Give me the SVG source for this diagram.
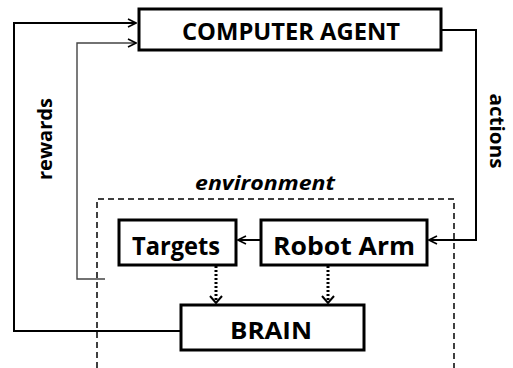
<svg xmlns="http://www.w3.org/2000/svg" width="513" height="368" viewBox="0 0 513 368">
<defs>
<marker id="ah" viewBox="0 0 10 10" refX="9" refY="5" markerWidth="10" markerHeight="10" markerUnits="userSpaceOnUse" orient="auto">
<path d="M1,1 L9,5 L1,9" fill="none" stroke="#000" stroke-width="1.6"/>
</marker>
</defs>
<style>
.box{fill:#fff;stroke:#000;stroke-width:3}
.lbl{font-family:"Open Sans","Liberation Sans",sans-serif;font-weight:700;fill:#000;text-anchor:middle}
.ln{fill:none;stroke:#000;stroke-width:2}
.thin{fill:none;stroke:#444;stroke-width:1.4}
.dot{fill:none;stroke:#000;stroke-width:3;stroke-dasharray:2 2}
</style>
<g id="environment">
<path d="M97,368 V199 H454 V368" fill="none" stroke="#000" stroke-width="1.5" stroke-dasharray="6 4"/>
<text x="265" y="190" class="lbl" font-size="20" font-style="italic" textLength="140" lengthAdjust="spacingAndGlyphs">environment</text>
</g>
<g id="connectors">
<path class="ln" d="M181,331 H14 V23 H136" marker-end="url(#ah)"/>
<path class="thin" d="M105,279 H77 V43 H136" marker-end="url(#ah)"/>
<path class="ln" d="M442,30 H476 V240 H429" marker-end="url(#ah)"/>
<path class="ln" d="M261,240 H238" marker-end="url(#ah)"/>
<path class="dot" d="M216,266 V300"/>
<path class="ln" d="M210,296 L216,303 L222,296"/>
<path class="dot" d="M328,266 V300"/>
<path class="ln" d="M322,296 L328,303 L334,296"/>
<text class="lbl" font-size="20" transform="translate(52,139) rotate(-90)" textLength="82" lengthAdjust="spacingAndGlyphs">rewards</text>
<text class="lbl" font-size="20" transform="translate(490,131) rotate(90)" textLength="75" lengthAdjust="spacingAndGlyphs">actions</text>
</g>
<g id="computer-agent">
<rect class="box" x="139" y="9" width="302" height="41"/>
<text x="291" y="40" class="lbl" font-size="23" textLength="218" lengthAdjust="spacingAndGlyphs">COMPUTER AGENT</text>
</g>
<g id="targets">
<rect class="box" x="119" y="220" width="117" height="45"/>
<text x="176" y="255" class="lbl" font-size="25" textLength="88" lengthAdjust="spacingAndGlyphs">Targets</text>
</g>
<g id="robot-arm">
<rect class="box" x="261" y="220" width="166" height="45"/>
<text x="344" y="255" class="lbl" font-size="25" textLength="142" lengthAdjust="spacingAndGlyphs">Robot Arm</text>
</g>
<g id="brain">
<rect class="box" x="181" y="305" width="183" height="45"/>
<text x="271" y="339" class="lbl" font-size="24" textLength="82" lengthAdjust="spacingAndGlyphs">BRAIN</text>
</g>
</svg>
